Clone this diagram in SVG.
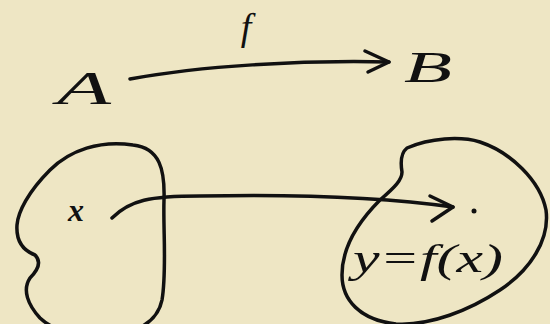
<svg xmlns="http://www.w3.org/2000/svg" width="550" height="324" viewBox="0 0 550 324">
<style>
.ink{fill:none;stroke:#111;stroke-width:3.5;stroke-linecap:round;stroke-linejoin:round}
.lbl{font-family:"Liberation Serif",serif;font-style:italic;fill:#111;text-anchor:middle}
</style>
<rect width="550" height="324" fill="#EEE6C4"/>
<g id="setA">
<path class="ink" d="M133,145 C100,140 70,150 50,170 C28,192 18,212 17,225 C16,240 22,250 35,255 C42,262 38,270 30,278 C22,290 28,305 40,318 C55,332 85,340 110,336 C140,332 158,320 162,300 C167,270 163,230 164,200 C165,170 160,148 133,145 Z"/>
<text class="lbl" x="76" y="221" font-size="32" font-weight="bold">x</text>
</g>
<g id="setB">
<path class="ink" d="M407,148 C430,138 460,136 480,142 C510,152 540,180 546,210 C550,240 530,270 500,290 C470,310 430,326 396,324 C360,320 342,300 342,275 C342,245 360,220 380,200 C395,187 402,180 402,172 C400,160 402,152 407,148 Z"/>
<circle cx="474" cy="211" r="2.5" fill="#111"/>
<text class="lbl" x="428" y="272" font-size="40" textLength="150" lengthAdjust="spacingAndGlyphs">y=f(x)</text>
</g>
<g id="A"><text class="lbl" x="84" y="104" font-size="46" textLength="54" lengthAdjust="spacingAndGlyphs">A</text></g>
<g id="B"><text class="lbl" x="428" y="82" font-size="44" textLength="48" lengthAdjust="spacingAndGlyphs">B</text></g>
<g id="connectors">
<path class="ink" d="M130,79 C200,66 300,60 389,62"/>
<path class="ink" d="M365,51 L389,62 L368,72"/>
<text class="lbl" x="246" y="40" font-size="38">f</text>
<path class="ink" d="M112,218 C130,200 150,196 200,196 C300,194 390,198 453,207"/>
<path class="ink" d="M430,196 L453,207 L432,221"/>
</g>
</svg>
